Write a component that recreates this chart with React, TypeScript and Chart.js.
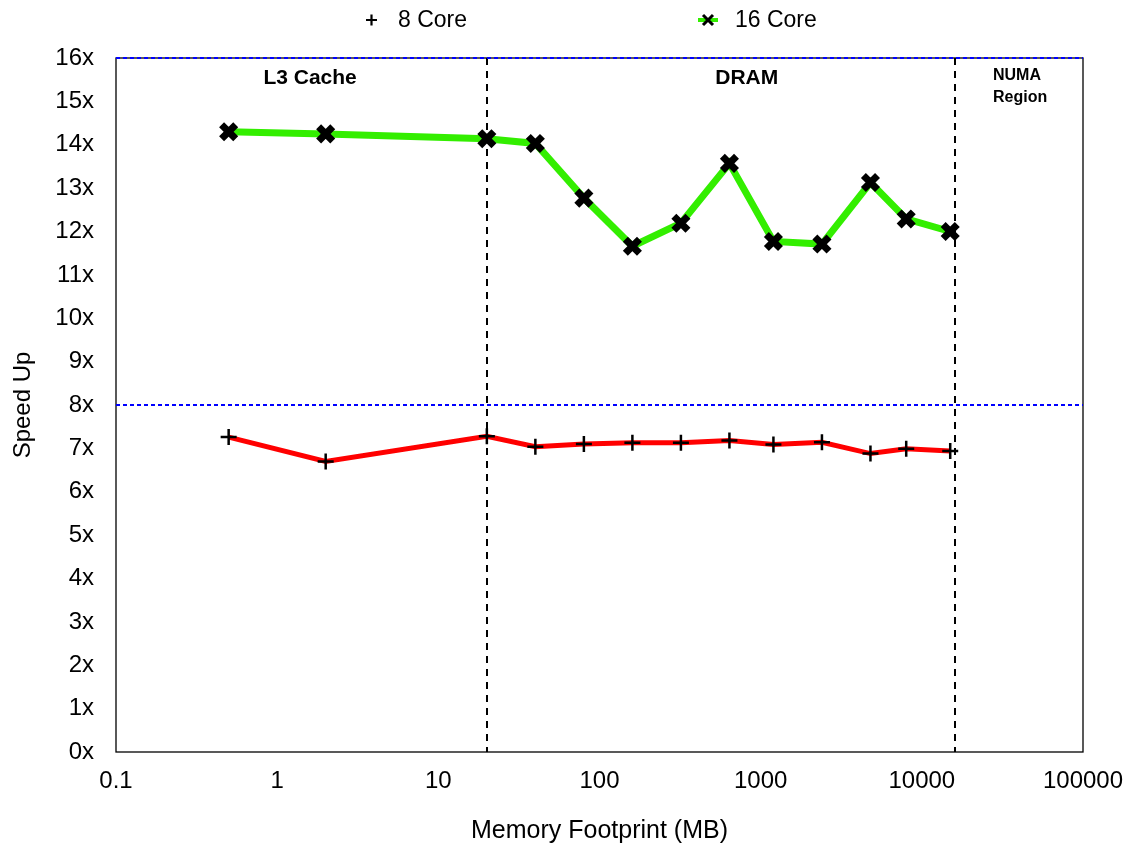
import React, { useEffect, useRef } from 'react';
import { Chart, registerables } from 'chart.js';

Chart.register(...registerables);

const memoryMB = [0.5, 2, 20, 40, 80, 160, 320, 640, 1200, 2400, 4800, 8000, 15000];
const core8 = [7.26, 6.7, 7.28, 7.04, 7.1, 7.13, 7.13, 7.18, 7.09, 7.14, 6.88, 6.99, 6.94];
const core16 = [14.3, 14.25, 14.14, 14.03, 12.77, 11.66, 12.19, 13.57, 11.77, 11.71, 13.13, 12.29, 12.0];
const xTickValues = [0.1, 1, 10, 100, 1000, 10000, 100000];
const regionBoundaries = [20, 16000];
const referenceSpeedups = [8, 16];
const regionLabels = [
  { text: 'L3 Cache', at: 1.6 },
  { text: 'DRAM', at: 820 },
];
const numaLabel = ['NUMA', 'Region'];

const FONT = '"Liberation Sans", Arial, Helvetica, sans-serif';

const overlayPlugin = {
  id: 'overlay',
  beforeDatasetsDraw(chart: any) {
    const { ctx, chartArea: a, scales } = chart;
    const x = scales.x;
    const y = scales.y;
    ctx.save();
    ctx.strokeStyle = '#000';
    ctx.lineWidth = 1.3;
    ctx.setLineDash([]);
    ctx.strokeRect(a.left, a.top, a.right - a.left, a.bottom - a.top);
    ctx.lineWidth = 2;
    ctx.setLineDash([7, 6]);
    regionBoundaries.forEach((v) => {
      const px = Math.round(x.getPixelForValue(v));
      ctx.beginPath();
      ctx.moveTo(px, a.top);
      ctx.lineTo(px, a.bottom);
      ctx.stroke();
    });
    ctx.strokeStyle = '#0000ff';
    ctx.setLineDash([4, 3]);
    referenceSpeedups.forEach((v) => {
      const py = Math.round(y.getPixelForValue(v));
      ctx.beginPath();
      ctx.moveTo(a.left, py);
      ctx.lineTo(a.right, py);
      ctx.stroke();
    });
    ctx.setLineDash([]);
    ctx.fillStyle = '#000';
    ctx.textAlign = 'center';
    ctx.textBaseline = 'middle';
    ctx.font = `bold 21px ${FONT}`;
    regionLabels.forEach((r) => {
      ctx.fillText(r.text, x.getPixelForValue(r.at), a.top + 20);
    });
    ctx.font = `bold 16px ${FONT}`;
    ctx.textAlign = 'left';
    ctx.fillText(numaLabel[0], 993, a.top + 18);
    ctx.fillText(numaLabel[1], 993, a.top + 40);
    ctx.restore();
  },
  afterDraw(chart: any) {
    const { ctx } = chart;
    ctx.save();
    ctx.font = `23px ${FONT}`;
    ctx.fillStyle = '#000';
    ctx.textBaseline = 'middle';
    ctx.textAlign = 'left';
    const ly = 20;
    ctx.strokeStyle = '#000';
    ctx.lineWidth = 2.2;
    ctx.beginPath();
    ctx.moveTo(366, ly);
    ctx.lineTo(377, ly);
    ctx.moveTo(371.5, ly - 5.5);
    ctx.lineTo(371.5, ly + 5.5);
    ctx.stroke();
    ctx.fillText(chart.data.datasets[0].label, 398, ly + 1);
    ctx.strokeStyle = '#33ee00';
    ctx.lineWidth = 4;
    ctx.beginPath();
    ctx.moveTo(698, ly);
    ctx.lineTo(718, ly);
    ctx.stroke();
    ctx.strokeStyle = '#000';
    ctx.lineWidth = 3;
    ctx.beginPath();
    ctx.moveTo(703, ly - 5);
    ctx.lineTo(713, ly + 5);
    ctx.moveTo(713, ly - 5);
    ctx.lineTo(703, ly + 5);
    ctx.stroke();
    ctx.fillText(chart.data.datasets[1].label, 735, ly + 1);
    ctx.restore();
  },
};

export default function App() {
  const canvasRef = useRef<HTMLCanvasElement | null>(null);

  useEffect(() => {
    if (!canvasRef.current) return;
    const chart = new Chart(canvasRef.current, {
      type: 'line',
      data: {
        datasets: [
          {
            label: '8 Core',
            data: memoryMB.map((m, i) => ({ x: m, y: core8[i] })),
            borderColor: '#ff0000',
            borderWidth: 5,
            pointStyle: 'cross',
            pointRadius: 8,
            pointBorderWidth: 2.5,
            pointBorderColor: '#000',
            pointBackgroundColor: '#000',
            tension: 0,
          },
          {
            label: '16 Core',
            data: memoryMB.map((m, i) => ({ x: m, y: core16[i] })),
            borderColor: '#33ee00',
            borderWidth: 7,
            pointStyle: 'crossRot',
            pointRadius: 10,
            pointBorderWidth: 7,
            pointBorderColor: '#000',
            pointBackgroundColor: '#000',
            tension: 0,
          },
        ],
      },
      options: {
        animation: false,
        responsive: false,
        maintainAspectRatio: false,
        layout: { padding: { top: 58, right: 47, left: 0, bottom: 0 } },
        plugins: {
          legend: { display: false },
          tooltip: { enabled: false },
        },
        scales: {
          x: {
            type: 'logarithmic',
            min: 0.1,
            max: 100000,
            grid: { display: false, drawTicks: false },
            border: { display: false },
            afterBuildTicks: (scale: any) => {
              scale.ticks = xTickValues.map((v) => ({ value: v }));
            },
            afterFit: (scale: any) => {
              scale.height = 91;
              scale.paddingLeft = 0;
              scale.paddingRight = 0;
            },
            ticks: {
              autoSkip: false,
              maxRotation: 0,
              padding: 15,
              color: '#000',
              font: { family: FONT, size: 24 },
              callback: (v: any) => String(v),
            },
            title: {
              display: true,
              text: 'Memory Footprint (MB)',
              color: '#000',
              font: { family: FONT, size: 25 },
              padding: { top: 0, bottom: -3 },
            },
          },
          y: {
            type: 'linear',
            min: 0,
            max: 16,
            grid: { display: false, drawTicks: false },
            border: { display: false },
            afterFit: (scale: any) => {
              scale.width = 116;
            },
            ticks: {
              stepSize: 1,
              padding: 22,
              color: '#000',
              font: { family: FONT, size: 24 },
              callback: (v: any) => `${v}x`,
            },
            title: {
              display: true,
              text: 'Speed Up',
              color: '#000',
              font: { family: FONT, size: 24 },
              padding: { top: 9, bottom: 0 },
            },
          },
        },
      },
      plugins: [overlayPlugin],
    } as any);
    return () => chart.destroy();
  }, []);

  return (
    <div style={{ position: 'absolute', left: 0, top: 0, width: 1130, height: 843, background: '#fff' }}>
      <canvas ref={canvasRef} width={1130} height={843} style={{ width: 1130, height: 843 }} />
    </div>
  );
}
